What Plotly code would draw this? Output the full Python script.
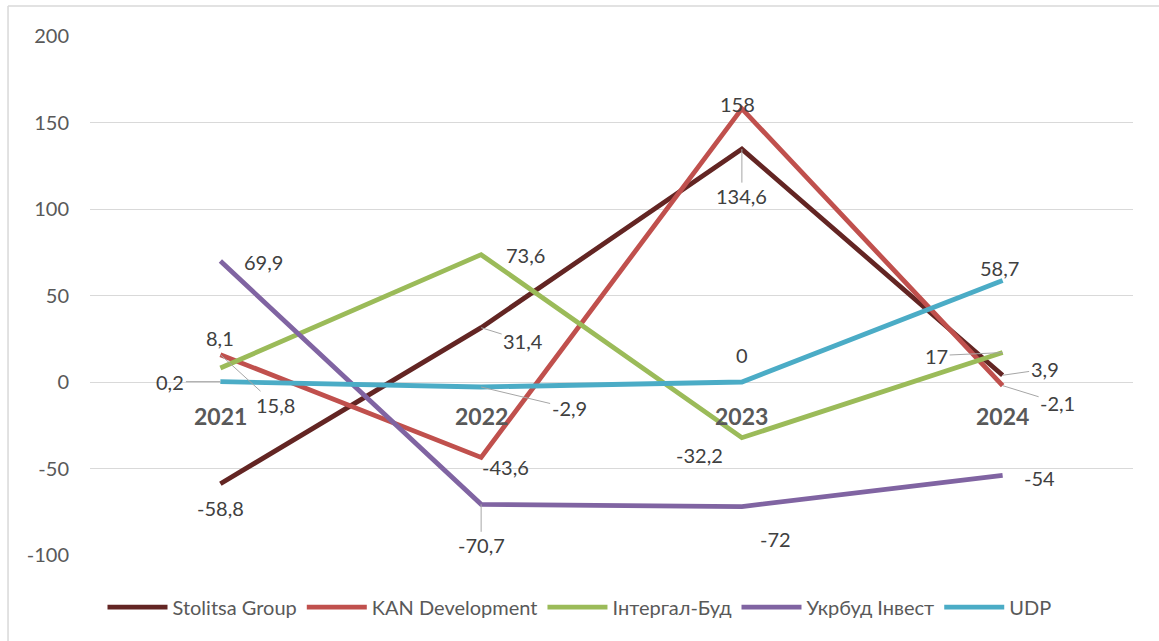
import plotly.graph_objects as go

years = ["2021", "2022", "2023", "2024"]
series_names = ["Stolitsa Group", "KAN Development", "Інтергал-Буд", "Укрбуд Інвест", "UDP"]
stolitsa = [-58.8, 31.4, 134.6, 3.9]
kan = [15.8, -43.6, 158, -2.1]
intergal = [8.1, 73.6, -32.2, 17]
ukrbud = [69.9, -70.7, -72, -54]
udp = [0.2, -2.9, 0, 58.7]
y_ticks = [-100, -50, 0, 50, 100, 150, 200]

colors = ["#632523", "#C0504D", "#9BBB59", "#8064A2", "#4BACC6"]
all_values = [stolitsa, kan, intergal, ukrbud, udp]

# label placement (pixel offsets dx, dy; leader line flag) per series/point
label_style = [
    [(0, 24, False), (42, 13, True), (0, 47, True), (42, -6, True)],
    [(55, 50, True), (24, 10, False), (-4, -5, False), (55, 17, True)],
    [(0, -30, False), (44, 0, False), (-42, 17, False), (-66, 3, True)],
    [(43, 1, False), (0, 41, True), (34, 32, False), (37, 3, False)],
    [(-50, 0, True), (88, 21, True), (0, -27, False), (-3, -12, False)],
]

FONT = "Lato"

fig = go.Figure()
for name, vals, col in zip(series_names, all_values, colors):
    fig.add_trace(go.Scatter(
        x=list(range(len(years))), y=vals, name=name, mode="lines",
        line=dict(color=col, width=4.8),
        hoverinfo="skip",
    ))

def fmt(v):
    return ("%g" % v).replace(".", ",")

annotations = []
for vals, styles in zip(all_values, label_style):
    for i, (v, (dx, dy, leader)) in enumerate(zip(vals, styles)):
        if leader:
            annotations.append(dict(
                x=i, y=v, xref="x", yref="y", text=fmt(v),
                showarrow=True, arrowhead=0, arrowwidth=1, arrowcolor="#A6A6A6",
                ax=dx, ay=dy, standoff=0,
                font=dict(family=FONT, size=20, color="#404040"),
            ))
        else:
            annotations.append(dict(
                x=i, y=v, xref="x", yref="y", text=fmt(v),
                showarrow=False, xshift=dx, yshift=-dy,
                font=dict(family=FONT, size=20, color="#404040"),
            ))

for i, yr in enumerate(years):
    annotations.append(dict(
        x=i, y=0, xref="x", yref="y", text="<b>%s</b>" % yr,
        showarrow=False, yshift=-34,
        font=dict(family=FONT, size=23, color="#595959"),
    ))

fig.update_layout(
    width=1159, height=641,
    margin=dict(l=90, r=26, t=36, b=86),
    paper_bgcolor="white", plot_bgcolor="white",
    showlegend=True,
    legend=dict(
        orientation="h", xref="container", yref="container",
        x=0.5, xanchor="center", y=0.053, yanchor="middle",
        font=dict(family=FONT, size=20, color="#595959"),
        itemwidth=60, traceorder="normal",
    ),
    annotations=annotations,
    shapes=[
        dict(type="line", xref="paper", yref="paper", x0=-0.0786, x1=1.03, y0=1.0578, y1=1.0578,
             line=dict(color="#D9D9D9", width=1.5)),
        dict(type="line", xref="paper", yref="paper", x0=-0.0786, x1=-0.0786, y0=1.0578, y1=-0.17,
             line=dict(color="#D9D9D9", width=1.5)),
    ],
)
fig.update_xaxes(
    type="linear", range=[-0.5, 3.5], showticklabels=False, showgrid=False,
    zeroline=False, showline=False, ticks="",
)
fig.update_yaxes(
    range=[-100, 200], tickvals=y_ticks, ticktext=[str(t) for t in y_ticks],
    showgrid=True, gridcolor="#D9D9D9", gridwidth=1,
    zeroline=True, zerolinecolor="#D9D9D9", zerolinewidth=1,
    showline=False, ticks="", ticklabelstandoff=20,
    tickfont=dict(family=FONT, size=20, color="#595959"),
)

fig.write_html("out.html")
